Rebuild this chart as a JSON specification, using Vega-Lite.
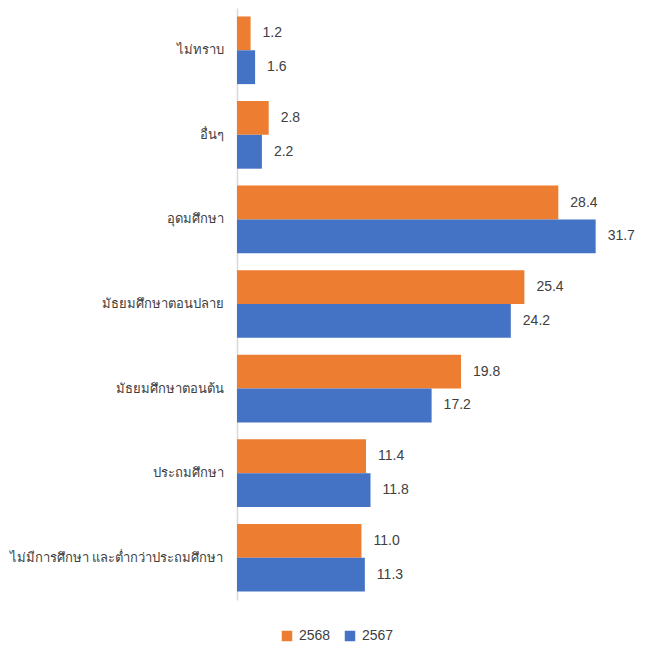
{
  "$schema": "https://vega.github.io/schema/vega-lite/v6.json",
  "width": 396,
  "height": 592,
  "padding": {"left": 5, "top": 8, "right": 5, "bottom": 5},
  "background": "white",
  "config": {
    "view": {"stroke": null},
    "font": "Liberation Sans"
  },
  "data": {
    "values": [
      {"cat": "ไม่ทราบ", "year": "2568", "value": 1.2},
      {"cat": "ไม่ทราบ", "year": "2567", "value": 1.6},
      {"cat": "อื่นๆ", "year": "2568", "value": 2.8},
      {"cat": "อื่นๆ", "year": "2567", "value": 2.2},
      {"cat": "อุดมศึกษา", "year": "2568", "value": 28.4},
      {"cat": "อุดมศึกษา", "year": "2567", "value": 31.7},
      {"cat": "มัธยมศึกษาตอนปลาย", "year": "2568", "value": 25.4},
      {"cat": "มัธยมศึกษาตอนปลาย", "year": "2567", "value": 24.2},
      {"cat": "มัธยมศึกษาตอนต้น", "year": "2568", "value": 19.8},
      {"cat": "มัธยมศึกษาตอนต้น", "year": "2567", "value": 17.2},
      {"cat": "ประถมศึกษา", "year": "2568", "value": 11.4},
      {"cat": "ประถมศึกษา", "year": "2567", "value": 11.8},
      {"cat": "ไม่มีการศึกษา และต่ำกว่าประถมศึกษา", "year": "2568", "value": 11.0},
      {"cat": "ไม่มีการศึกษา และต่ำกว่าประถมศึกษา", "year": "2567", "value": 11.3}
    ]
  },
  "encoding": {
    "y": {
      "field": "cat",
      "type": "nominal",
      "sort": null,
      "scale": {"paddingInner": 0.2, "paddingOuter": 0.1},
      "axis": {
        "title": null,
        "domainColor": "#D9D9D9",
        "domainWidth": 1.5,
        "ticks": false,
        "tickSize": 0,
        "labelPadding": 14,
        "labelFontSize": 13,
        "labelLimit": 0,
        "labelColor": "#404040",
        "labelFont": "Liberation Sans",
        "minExtent": 232,
        "maxExtent": 232
      }
    },
    "yOffset": {"field": "year", "type": "nominal", "sort": ["2568", "2567"], "scale": {"paddingInner": 0, "paddingOuter": 0}},
    "x": {
      "field": "value",
      "type": "quantitative",
      "scale": {"domain": [0, 35], "nice": false},
      "axis": null
    }
  },
  "layer": [
    {
      "mark": {"type": "bar"},
      "encoding": {
        "color": {
          "field": "year",
          "type": "nominal",
          "scale": {"domain": ["2568", "2567"], "range": ["#ED7D31", "#4472C4"]},
          "legend": {
            "title": null,
            "orient": "none",
            "legendX": 43,
            "legendY": 621,
            "direction": "horizontal",
            "symbolType": "square",
            "symbolSize": 110,
            "symbolStrokeWidth": 0,
            "symbolOpacity": 1,
            "labelFontSize": 14,
            "labelColor": "#404040",
            "labelOffset": 5,
            "columnPadding": 12
          }
        }
      }
    },
    {
      "mark": {"type": "text", "align": "left", "baseline": "middle", "dx": 12, "fontSize": 14, "color": "#404040"},
      "encoding": {
        "text": {"field": "value", "type": "quantitative", "format": ".1f"}
      }
    }
  ]
}
